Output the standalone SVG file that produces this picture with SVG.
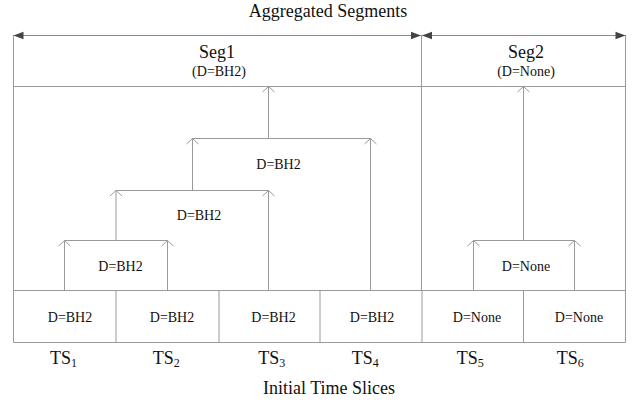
<svg xmlns="http://www.w3.org/2000/svg" width="632" height="402" viewBox="0 0 632 402">
<style>
.ln{stroke:#9a9a9a;stroke-width:1;fill:none}
.ar{stroke:#9a9a9a;stroke-width:1;fill:none;marker-end:url(#open)}
.top{stroke:#8a8a8a;stroke-width:1;fill:none;marker-start:url(#solid);marker-end:url(#solid)}
</style>
<defs>
<marker id="open" markerUnits="userSpaceOnUse" markerWidth="20" markerHeight="20" refX="0" refY="0" orient="auto" overflow="visible">
<path d="M-5.5,-6 L0,0 L-5.5,6" fill="none" stroke="#9a9a9a" stroke-width="1"/>
</marker>
<marker id="solid" markerUnits="userSpaceOnUse" markerWidth="20" markerHeight="20" refX="0" refY="0" orient="auto-start-reverse" overflow="visible">
<path d="M-10,-3.8 L0,0 L-10,3.8 Z" fill="#444"/>
</marker>
</defs>
<rect width="632" height="402" fill="#fff"/>

<text x="328" y="17" text-anchor="middle" style="font-family:'Liberation Serif';font-size:18px;fill:#111">Aggregated Segments</text>
<text x="329" y="394" text-anchor="middle" style="font-family:'Liberation Serif';font-size:18px;fill:#111">Initial Time Slices</text>

<g id="frame">
<path class="ln" d="M13.5,35 V342.5 H625.5 V35"/>
<path class="ln" d="M13.5,86.5 H625.5"/>
<path class="ln" d="M421.5,35 V290.5"/>
<path class="ln" d="M13.5,290.5 H625.5"/>
</g>

<g id="seg1">
<text x="217" y="58" text-anchor="middle" style="font-family:'Liberation Serif';font-size:18px;fill:#111">Seg1</text>
<text x="219" y="76" text-anchor="middle" style="font-family:'Liberation Serif';font-size:14px;fill:#111">(D=BH2)</text>
</g>
<g id="seg2">
<text x="526" y="58" text-anchor="middle" style="font-family:'Liberation Serif';font-size:18px;fill:#111">Seg2</text>
<text x="526" y="76" text-anchor="middle" style="font-family:'Liberation Serif';font-size:14px;fill:#111">(D=None)</text>
</g>

<g id="ts1">
<path class="ln" d="M116,290.5 V342.5"/>
<text x="70" y="322" text-anchor="middle" style="font-family:'Liberation Serif';font-size:14px;fill:#111">D=BH2</text>
<text x="50" y="364" style="font-family:'Liberation Serif';font-size:18px;fill:#111">TS<tspan dy="3" style="font-size:12px">1</tspan></text>
</g>
<g id="ts2">
<path class="ln" d="M219,290.5 V342.5"/>
<text x="172" y="322" text-anchor="middle" style="font-family:'Liberation Serif';font-size:14px;fill:#111">D=BH2</text>
<text x="152.7" y="364" style="font-family:'Liberation Serif';font-size:18px;fill:#111">TS<tspan dy="3" style="font-size:12px">2</tspan></text>
</g>
<g id="ts3">
<path class="ln" d="M320,290.5 V342.5"/>
<text x="273.5" y="322" text-anchor="middle" style="font-family:'Liberation Serif';font-size:14px;fill:#111">D=BH2</text>
<text x="258.3" y="364" style="font-family:'Liberation Serif';font-size:18px;fill:#111">TS<tspan dy="3" style="font-size:12px">3</tspan></text>
</g>
<g id="ts4">
<path class="ln" d="M422,290.5 V342.5"/>
<text x="372" y="322" text-anchor="middle" style="font-family:'Liberation Serif';font-size:14px;fill:#111">D=BH2</text>
<text x="351.7" y="364" style="font-family:'Liberation Serif';font-size:18px;fill:#111">TS<tspan dy="3" style="font-size:12px">4</tspan></text>
</g>
<g id="ts5">
<path class="ln" d="M523.5,290.5 V342.5"/>
<text x="477" y="322" text-anchor="middle" style="font-family:'Liberation Serif';font-size:14px;fill:#111">D=None</text>
<text x="456.7" y="364" style="font-family:'Liberation Serif';font-size:18px;fill:#111">TS<tspan dy="3" style="font-size:12px">5</tspan></text>
</g>
<g id="ts6">
<text x="579" y="322" text-anchor="middle" style="font-family:'Liberation Serif';font-size:14px;fill:#111">D=None</text>
<text x="556.7" y="364" style="font-family:'Liberation Serif';font-size:18px;fill:#111">TS<tspan dy="3" style="font-size:12px">6</tspan></text>
</g>

<g id="merge-labels">
<text x="120.5" y="271" text-anchor="middle" style="font-family:'Liberation Serif';font-size:14px;fill:#111">D=BH2</text>
<text x="199" y="219.5" text-anchor="middle" style="font-family:'Liberation Serif';font-size:14px;fill:#111">D=BH2</text>
<text x="278.5" y="168.5" text-anchor="middle" style="font-family:'Liberation Serif';font-size:14px;fill:#111">D=BH2</text>
<text x="526" y="271" text-anchor="middle" style="font-family:'Liberation Serif';font-size:14px;fill:#111">D=None</text>
</g>

<g id="connectors">
<path class="top" d="M13.5,35.5 H421"/>
<path class="top" d="M422,35.5 H625.5"/>
<path class="ar" d="M64.5,290 V240.5"/>
<path class="ar" d="M167.5,290 V240.5"/>
<path class="ln" d="M64.5,240.5 H167.5"/>
<path class="ar" d="M116,240.5 V190.5"/>
<path class="ar" d="M268.5,290 V190.5"/>
<path class="ln" d="M116,190.5 H268.5"/>
<path class="ar" d="M192.5,190.5 V138.5"/>
<path class="ar" d="M370.5,290 V138.5"/>
<path class="ln" d="M192.5,138.5 H370.5"/>
<path class="ar" d="M268.5,138.5 V86.5"/>
<path class="ar" d="M473.5,290 V240.5"/>
<path class="ar" d="M574.5,290 V240.5"/>
<path class="ln" d="M473.5,240.5 H574.5"/>
<path class="ar" d="M523.5,240.5 V86.5"/>
</g>
</svg>
